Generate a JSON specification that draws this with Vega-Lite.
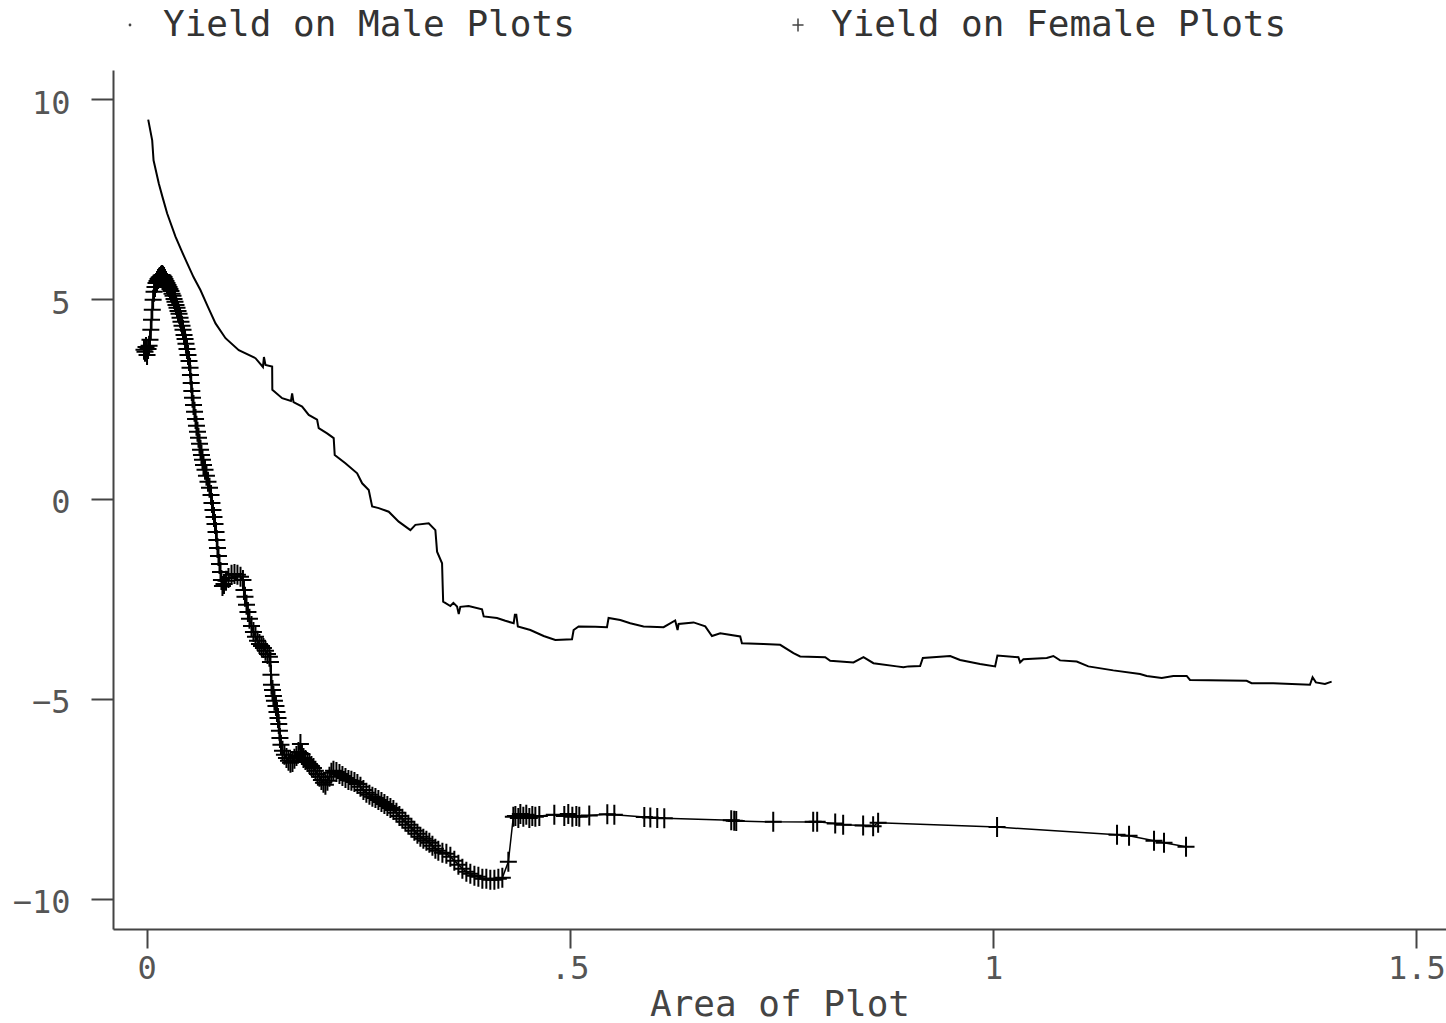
{
  "$schema": "https://vega.github.io/schema/vega-lite/v6.json",
  "autosize": "none",
  "width": 1333,
  "height": 859,
  "padding": {"left": 113, "top": 70, "right": 0, "bottom": 94},
  "background": "white",
  "config": {
    "view": {"stroke": null},
    "font": "DejaVu Sans Mono"
  },
  "datasets": {
    "male": [
      {"x": 0.0020, "y": 9.49}, {"x": 0.0067, "y": 8.97}, {"x": 0.0083, "y": 8.47}, {"x": 0.0145, "y": 7.89},
      {"x": 0.0189, "y": 7.55}, {"x": 0.0244, "y": 7.14}, {"x": 0.0342, "y": 6.56}, {"x": 0.0407, "y": 6.24},
      {"x": 0.0481, "y": 5.89}, {"x": 0.0555, "y": 5.55}, {"x": 0.0638, "y": 5.22}, {"x": 0.0720, "y": 4.83},
      {"x": 0.0815, "y": 4.39}, {"x": 0.0933, "y": 4.02}, {"x": 0.1090, "y": 3.72}, {"x": 0.1287, "y": 3.52},
      {"x": 0.1375, "y": 3.30}, {"x": 0.1387, "y": 3.55}, {"x": 0.1405, "y": 3.35}, {"x": 0.1484, "y": 3.31},
      {"x": 0.1486, "y": 2.73}, {"x": 0.1602, "y": 2.52}, {"x": 0.1706, "y": 2.45}, {"x": 0.1720, "y": 2.64},
      {"x": 0.1736, "y": 2.42}, {"x": 0.1838, "y": 2.31}, {"x": 0.1916, "y": 2.10}, {"x": 0.2015, "y": 1.98},
      {"x": 0.2034, "y": 1.77}, {"x": 0.2133, "y": 1.64}, {"x": 0.2211, "y": 1.52}, {"x": 0.2223, "y": 1.10},
      {"x": 0.2349, "y": 0.89}, {"x": 0.2488, "y": 0.64}, {"x": 0.2547, "y": 0.39}, {"x": 0.2625, "y": 0.22},
      {"x": 0.2665, "y": -0.19}, {"x": 0.2743, "y": -0.23}, {"x": 0.2861, "y": -0.32}, {"x": 0.2979, "y": -0.57},
      {"x": 0.3117, "y": -0.78}, {"x": 0.3176, "y": -0.65}, {"x": 0.3333, "y": -0.61}, {"x": 0.3412, "y": -0.78},
      {"x": 0.3432, "y": -1.32}, {"x": 0.3491, "y": -1.61}, {"x": 0.3498, "y": -2.15}, {"x": 0.3504, "y": -2.57},
      {"x": 0.3589, "y": -2.68}, {"x": 0.3625, "y": -2.60}, {"x": 0.3668, "y": -2.69}, {"x": 0.3688, "y": -2.88},
      {"x": 0.3707, "y": -2.70}, {"x": 0.3805, "y": -2.68}, {"x": 0.3963, "y": -2.76}, {"x": 0.3983, "y": -2.94},
      {"x": 0.4140, "y": -2.98}, {"x": 0.4238, "y": -3.05}, {"x": 0.4337, "y": -3.11}, {"x": 0.4351, "y": -2.90},
      {"x": 0.4368, "y": -2.90}, {"x": 0.4386, "y": -3.19}, {"x": 0.4534, "y": -3.28}, {"x": 0.4691, "y": -3.43},
      {"x": 0.4829, "y": -3.53}, {"x": 0.5026, "y": -3.51}, {"x": 0.5045, "y": -3.28}, {"x": 0.5104, "y": -3.19},
      {"x": 0.5301, "y": -3.20}, {"x": 0.5439, "y": -3.21}, {"x": 0.5458, "y": -2.98}, {"x": 0.5596, "y": -3.03},
      {"x": 0.5714, "y": -3.11}, {"x": 0.5871, "y": -3.19}, {"x": 0.6108, "y": -3.21}, {"x": 0.6245, "y": -3.04},
      {"x": 0.6273, "y": -3.28}, {"x": 0.6285, "y": -3.13}, {"x": 0.6462, "y": -3.09}, {"x": 0.6600, "y": -3.19},
      {"x": 0.6679, "y": -3.43}, {"x": 0.6777, "y": -3.36}, {"x": 0.7013, "y": -3.44}, {"x": 0.7033, "y": -3.61},
      {"x": 0.7288, "y": -3.63}, {"x": 0.7485, "y": -3.65}, {"x": 0.7642, "y": -3.86}, {"x": 0.7721, "y": -3.94},
      {"x": 0.8017, "y": -3.96}, {"x": 0.8076, "y": -4.05}, {"x": 0.8351, "y": -4.09}, {"x": 0.8469, "y": -3.96},
      {"x": 0.8587, "y": -4.11}, {"x": 0.8863, "y": -4.19}, {"x": 0.8941, "y": -4.21}, {"x": 0.9000, "y": -4.19},
      {"x": 0.9138, "y": -4.18}, {"x": 0.9170, "y": -3.98}, {"x": 0.9413, "y": -3.94}, {"x": 0.9493, "y": -3.93},
      {"x": 0.9610, "y": -4.03}, {"x": 0.9846, "y": -4.13}, {"x": 1.0024, "y": -4.19}, {"x": 1.0051, "y": -3.92},
      {"x": 1.0299, "y": -3.96}, {"x": 1.0319, "y": -4.09}, {"x": 1.0358, "y": -4.01}, {"x": 1.0634, "y": -3.98},
      {"x": 1.0712, "y": -3.93}, {"x": 1.0791, "y": -4.04}, {"x": 1.0988, "y": -4.07}, {"x": 1.1125, "y": -4.19},
      {"x": 1.1420, "y": -4.29}, {"x": 1.1736, "y": -4.38}, {"x": 1.1815, "y": -4.43}, {"x": 1.1992, "y": -4.48},
      {"x": 1.2129, "y": -4.43}, {"x": 1.2287, "y": -4.43}, {"x": 1.2326, "y": -4.53}, {"x": 1.2995, "y": -4.55},
      {"x": 1.3054, "y": -4.61}, {"x": 1.3309, "y": -4.61}, {"x": 1.3743, "y": -4.65}, {"x": 1.3774, "y": -4.46},
      {"x": 1.3813, "y": -4.59}, {"x": 1.3920, "y": -4.63}, {"x": 1.3999, "y": -4.57}
    ],
    "female": [
      {"x": -0.0030, "y": 3.73}, {"x": -0.0018, "y": 3.68}, {"x": -0.0006, "y": 3.80}, {"x": 0.0006, "y": 3.60},
      {"x": 0.0018, "y": 3.75}, {"x": 0.0030, "y": 3.83}, {"x": 0.0041, "y": 3.98}, {"x": 0.0051, "y": 4.23},
      {"x": 0.0059, "y": 4.48}, {"x": 0.0068, "y": 4.73}, {"x": 0.0078, "y": 4.98}, {"x": 0.0089, "y": 5.18},
      {"x": 0.0100, "y": 5.30}, {"x": 0.0112, "y": 5.40}, {"x": 0.0124, "y": 5.45}, {"x": 0.0136, "y": 5.50},
      {"x": 0.0148, "y": 5.53}, {"x": 0.0159, "y": 5.55}, {"x": 0.0171, "y": 5.58}, {"x": 0.0183, "y": 5.60},
      {"x": 0.0195, "y": 5.58}, {"x": 0.0207, "y": 5.55}, {"x": 0.0218, "y": 5.50}, {"x": 0.0230, "y": 5.45},
      {"x": 0.0242, "y": 5.40}, {"x": 0.0254, "y": 5.35}, {"x": 0.0266, "y": 5.30}, {"x": 0.0277, "y": 5.25},
      {"x": 0.0289, "y": 5.20}, {"x": 0.0301, "y": 5.13}, {"x": 0.0313, "y": 5.08}, {"x": 0.0325, "y": 5.00},
      {"x": 0.0336, "y": 4.93}, {"x": 0.0348, "y": 4.85}, {"x": 0.0360, "y": 4.78}, {"x": 0.0372, "y": 4.70},
      {"x": 0.0384, "y": 4.63}, {"x": 0.0396, "y": 4.53}, {"x": 0.0407, "y": 4.43}, {"x": 0.0419, "y": 4.33},
      {"x": 0.0431, "y": 4.23}, {"x": 0.0443, "y": 4.10}, {"x": 0.0455, "y": 4.00}, {"x": 0.0466, "y": 3.88},
      {"x": 0.0478, "y": 3.75}, {"x": 0.0490, "y": 3.60}, {"x": 0.0502, "y": 3.45}, {"x": 0.0514, "y": 3.28},
      {"x": 0.0519, "y": 3.10}, {"x": 0.0528, "y": 2.90}, {"x": 0.0535, "y": 2.70}, {"x": 0.0543, "y": 2.53},
      {"x": 0.0555, "y": 2.35}, {"x": 0.0567, "y": 2.18}, {"x": 0.0579, "y": 2.00}, {"x": 0.0590, "y": 1.83},
      {"x": 0.0602, "y": 1.68}, {"x": 0.0614, "y": 1.53}, {"x": 0.0626, "y": 1.38}, {"x": 0.0638, "y": 1.23},
      {"x": 0.0649, "y": 1.10}, {"x": 0.0661, "y": 0.98}, {"x": 0.0673, "y": 0.85}, {"x": 0.0691, "y": 0.73},
      {"x": 0.0708, "y": 0.58}, {"x": 0.0726, "y": 0.43}, {"x": 0.0744, "y": 0.28}, {"x": 0.0762, "y": 0.10},
      {"x": 0.0773, "y": -0.10}, {"x": 0.0785, "y": -0.28}, {"x": 0.0797, "y": -0.45}, {"x": 0.0809, "y": -0.63},
      {"x": 0.0821, "y": -0.83}, {"x": 0.0830, "y": -1.03}, {"x": 0.0838, "y": -1.23}, {"x": 0.0850, "y": -1.43},
      {"x": 0.0862, "y": -1.63}, {"x": 0.0874, "y": -1.83}, {"x": 0.0885, "y": -2.03}, {"x": 0.0897, "y": -2.18},
      {"x": 0.0915, "y": -2.13}, {"x": 0.0939, "y": -2.05}, {"x": 0.0968, "y": -1.98}, {"x": 0.1004, "y": -1.90},
      {"x": 0.1039, "y": -1.88}, {"x": 0.1074, "y": -1.90}, {"x": 0.1110, "y": -1.95}, {"x": 0.1139, "y": -2.03},
      {"x": 0.1151, "y": -2.28}, {"x": 0.1163, "y": -2.45}, {"x": 0.1181, "y": -2.65}, {"x": 0.1198, "y": -2.83},
      {"x": 0.1216, "y": -3.00}, {"x": 0.1240, "y": -3.18}, {"x": 0.1263, "y": -3.33}, {"x": 0.1287, "y": -3.45},
      {"x": 0.1311, "y": -3.55}, {"x": 0.1334, "y": -3.63}, {"x": 0.1358, "y": -3.68}, {"x": 0.1381, "y": -3.73},
      {"x": 0.1405, "y": -3.80}, {"x": 0.1429, "y": -3.88}, {"x": 0.1452, "y": -3.95}, {"x": 0.1464, "y": -4.08},
      {"x": 0.1470, "y": -4.40}, {"x": 0.1476, "y": -4.65}, {"x": 0.1488, "y": -4.78}, {"x": 0.1499, "y": -4.93},
      {"x": 0.1511, "y": -5.05}, {"x": 0.1529, "y": -5.18}, {"x": 0.1541, "y": -5.33}, {"x": 0.1553, "y": -5.48},
      {"x": 0.1562, "y": -5.63}, {"x": 0.1570, "y": -5.80}, {"x": 0.1576, "y": -5.98}, {"x": 0.1588, "y": -6.15},
      {"x": 0.1606, "y": -6.30}, {"x": 0.1629, "y": -6.40}, {"x": 0.1653, "y": -6.48}, {"x": 0.1677, "y": -6.55},
      {"x": 0.1700, "y": -6.60}, {"x": 0.1724, "y": -6.58}, {"x": 0.1747, "y": -6.50}, {"x": 0.1771, "y": -6.43},
      {"x": 0.1795, "y": -6.33}, {"x": 0.1818, "y": -6.13}, {"x": 0.1836, "y": -6.38}, {"x": 0.1854, "y": -6.48},
      {"x": 0.1877, "y": -6.53}, {"x": 0.1901, "y": -6.58}, {"x": 0.1924, "y": -6.63}, {"x": 0.1948, "y": -6.68},
      {"x": 0.1972, "y": -6.73}, {"x": 0.1995, "y": -6.80}, {"x": 0.2019, "y": -6.88}, {"x": 0.2043, "y": -6.95},
      {"x": 0.2066, "y": -7.03}, {"x": 0.2090, "y": -7.10}, {"x": 0.2113, "y": -7.15}, {"x": 0.2137, "y": -7.05},
      {"x": 0.2161, "y": -6.95}, {"x": 0.2184, "y": -6.85}, {"x": 0.2208, "y": -6.80}, {"x": 0.2243, "y": -6.83},
      {"x": 0.2279, "y": -6.88}, {"x": 0.2314, "y": -6.93}, {"x": 0.2350, "y": -6.98}, {"x": 0.2385, "y": -7.03},
      {"x": 0.2420, "y": -7.05}, {"x": 0.2456, "y": -7.08}, {"x": 0.2491, "y": -7.13}, {"x": 0.2527, "y": -7.20},
      {"x": 0.2562, "y": -7.28}, {"x": 0.2597, "y": -7.35}, {"x": 0.2633, "y": -7.40}, {"x": 0.2668, "y": -7.45},
      {"x": 0.2704, "y": -7.48}, {"x": 0.2739, "y": -7.53}, {"x": 0.2775, "y": -7.58}, {"x": 0.2810, "y": -7.63},
      {"x": 0.2845, "y": -7.68}, {"x": 0.2881, "y": -7.73}, {"x": 0.2916, "y": -7.78}, {"x": 0.2952, "y": -7.85},
      {"x": 0.2987, "y": -7.93}, {"x": 0.3022, "y": -8.00}, {"x": 0.3058, "y": -8.08}, {"x": 0.3093, "y": -8.15},
      {"x": 0.3129, "y": -8.23}, {"x": 0.3164, "y": -8.30}, {"x": 0.3200, "y": -8.38}, {"x": 0.3235, "y": -8.45},
      {"x": 0.3270, "y": -8.50}, {"x": 0.3306, "y": -8.55}, {"x": 0.3341, "y": -8.60}, {"x": 0.3377, "y": -8.68},
      {"x": 0.3412, "y": -8.75}, {"x": 0.3447, "y": -8.80}, {"x": 0.3495, "y": -8.85}, {"x": 0.3542, "y": -8.88},
      {"x": 0.3589, "y": -8.95}, {"x": 0.3636, "y": -9.05}, {"x": 0.3684, "y": -9.15}, {"x": 0.3731, "y": -9.25},
      {"x": 0.3778, "y": -9.33}, {"x": 0.3825, "y": -9.38}, {"x": 0.3873, "y": -9.43}, {"x": 0.3920, "y": -9.45},
      {"x": 0.3967, "y": -9.50}, {"x": 0.4014, "y": -9.50}, {"x": 0.4061, "y": -9.53}, {"x": 0.4109, "y": -9.53},
      {"x": 0.4156, "y": -9.50}, {"x": 0.4203, "y": -9.48}, {"x": 0.4274, "y": -9.08}, {"x": 0.4333, "y": -7.95},
      {"x": 0.4357, "y": -7.93}, {"x": 0.4392, "y": -7.98}, {"x": 0.4416, "y": -7.88}, {"x": 0.4451, "y": -7.95},
      {"x": 0.4486, "y": -7.90}, {"x": 0.4522, "y": -7.98}, {"x": 0.4557, "y": -7.93}, {"x": 0.4593, "y": -7.95},
      {"x": 0.4640, "y": -7.93}, {"x": 0.4817, "y": -7.90}, {"x": 0.4935, "y": -7.93}, {"x": 0.4982, "y": -7.88},
      {"x": 0.5030, "y": -7.95}, {"x": 0.5077, "y": -7.93}, {"x": 0.5112, "y": -7.95}, {"x": 0.5230, "y": -7.92},
      {"x": 0.5443, "y": -7.89}, {"x": 0.5526, "y": -7.90}, {"x": 0.5880, "y": -7.96}, {"x": 0.5951, "y": -7.97},
      {"x": 0.6033, "y": -7.98}, {"x": 0.6116, "y": -7.99}, {"x": 0.6907, "y": -8.04}, {"x": 0.6942, "y": -8.05},
      {"x": 0.6966, "y": -8.06}, {"x": 0.7403, "y": -8.08}, {"x": 0.7875, "y": -8.08}, {"x": 0.7922, "y": -8.08},
      {"x": 0.8135, "y": -8.12}, {"x": 0.8229, "y": -8.15}, {"x": 0.8465, "y": -8.17}, {"x": 0.8583, "y": -8.19},
      {"x": 0.8642, "y": -8.10}, {"x": 1.0047, "y": -8.21}, {"x": 1.1464, "y": -8.40}, {"x": 1.1606, "y": -8.43},
      {"x": 1.1901, "y": -8.55}, {"x": 1.2019, "y": -8.60}, {"x": 1.2279, "y": -8.70}
    ]
  },
  "encoding": {
    "x": {
      "field": "x",
      "type": "quantitative",
      "scale": {"domain": [-0.0396, 1.535], "nice": false, "zero": false},
      "axis": {
        "title": "Area of Plot",
        "values": [0, 0.5, 1, 1.5],
        "format": "~g",
        "labelExpr": "datum.value === 0.5 ? '.5' : datum.label",
        "grid": false,
        "domainColor": "#444",
        "domainWidth": 2,
        "tickColor": "#444",
        "tickWidth": 2,
        "tickSize": 19,
        "labelFont": "DejaVu Sans Mono",
        "labelFontSize": 32,
        "labelColor": "#555",
        "labelPadding": 5,
        "labelFlush": false,
        "titleFont": "DejaVu Sans Mono",
        "titleFontSize": 36,
        "titleFontWeight": "normal",
        "titleColor": "#444",
        "titleBaseline": "alphabetic",
        "titleY": 86
      }
    },
    "y": {
      "field": "y",
      "type": "quantitative",
      "scale": {"domain": [-10.76, 10.73], "nice": false, "zero": false},
      "axis": {
        "title": null,
        "values": [-10, -5, 0, 5, 10],
        "grid": false,
        "domainColor": "#444",
        "domainWidth": 2,
        "tickColor": "#444",
        "tickWidth": 2,
        "tickSize": 22,
        "labelFont": "DejaVu Sans Mono",
        "labelFontSize": 32,
        "labelColor": "#555",
        "labelPadding": 21,
        "labelOffset": 4
      }
    }
  },
  "layer": [
    {
      "data": {"name": "male"},
      "mark": {"type": "line", "color": "black", "strokeWidth": 2}
    },
    {
      "data": {"name": "female"},
      "mark": {"type": "line", "color": "black", "strokeWidth": 1.5}
    },
    {
      "data": {"name": "female"},
      "mark": {"type": "point", "filled": false, "stroke": "black", "strokeWidth": 2, "opacity": 1, "size": 400},
      "encoding": {
        "shape": {
          "datum": "Yield on Female Plots",
          "scale": {
            "domain": ["Yield on Male Plots", "Yield on Female Plots"],
            "range": ["M-0.1,0a0.1,0.1 0 1,0 0.2,0a0.1,0.1 0 1,0 -0.2,0", "M-0.85,0H0.85M0,-1V1"]
          },
          "legend": {
            "title": null,
            "orient": "none",
            "direction": "horizontal",
            "legendX": -1,
            "legendY": -63,
            "padding": 0,
            "columnPadding": 205,
            "labelOffset": 15,
            "labelFont": "DejaVu Sans Mono",
            "labelFontSize": 36,
            "labelColor": "#333",
            "labelLimit": 1000,
            "symbolSize": 170,
            "symbolStrokeWidth": 1.5,
            "symbolStrokeColor": "#444",
            "symbolFillColor": "transparent"
          }
        }
      }
    }
  ]
}
